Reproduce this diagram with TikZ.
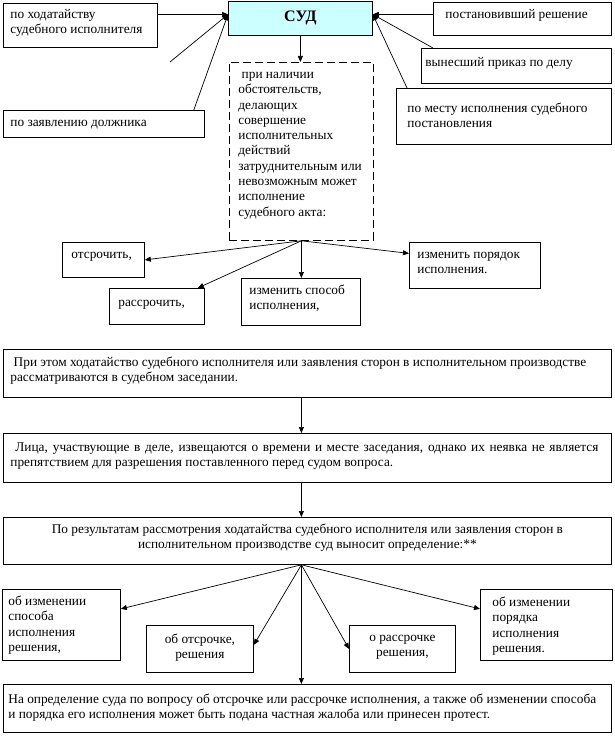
\documentclass[tikz,border=0pt]{standalone}
\usepackage{fontspec}
\setmainfont{Liberation Serif}
\usetikzlibrary{arrows.meta,calc}
\definecolor{sudcyan}{HTML}{CCFFFF}
\newcommand\pbx[5]{\parbox[c][#1][t]{#2}{#3\vspace*{#4}\strut#5}}
\tikzset{
  box/.style={draw, line width=0.8pt, anchor=north west, inner ysep=0pt,
    font=\fontsize{13.33}{15.3}\selectfont},
  dbox/.style={box, dash pattern=on 8pt off 4pt},
  arr/.style={line width=0.7pt, -{Triangle[length=6pt,width=5pt]}},
}
\begin{document}
\begin{tikzpicture}[x=1pt,y=-1pt]
\useasboundingbox (0,0) rectangle (614,746);
% top row
\node[box, inner xsep=7pt] (hodat) at (3,3) {\pbx{44pt}{140pt}{\raggedright}{4.3pt}{по ходатайству\\судебного исполнителя}};
\node[draw, line width=0.8pt, fill=sudcyan, minimum width=144pt, minimum height=34pt, inner sep=0pt,
  font=\fontsize{16}{18}\selectfont\bfseries, anchor=north west] (sud) at (228,1) {СУД};
\node[box, inner xsep=12pt] (post) at (433,2) {\pbx{33pt}{154pt}{\raggedright}{5.3pt}{постановивший решение}};
\node[box, inner xsep=4pt] (vyn) at (421,48) {\pbx{35pt}{182pt}{\raggedright}{7.3pt}{вынесший приказ по делу}};
\node[box, inner xsep=11pt] (mesto) at (396,88) {\pbx{56pt}{193pt}{\raggedright}{13.3pt}{по месту исполнения судебного\\постановления}};
\node[box, inner xsep=7pt] (zayav) at (3,110) {\pbx{27pt}{187pt}{\raggedright}{5.3pt}{по заявлению должника}};
\node[dbox, inner xsep=9pt] (cond) at (229,62) {\pbx{178pt}{126pt}{\raggedright}{5.3pt}{\ при наличии\\обстоятельств,\\делающих\\совершение\\исполнительных\\действий\\затруднительным или\\невозможным может\\исполнение\\судебного акта:}};
% middle row
\node[box, inner xsep=9pt] (otsr) at (62,242) {\pbx{35pt}{64pt}{\raggedright}{5.3pt}{отсрочить,}};
\node[box, inner xsep=9pt] (rassr) at (109,288) {\pbx{36pt}{77pt}{\raggedright}{7.3pt}{рассрочить,}};
\node[box, inner xsep=8pt] (sposob) at (241,278) {\pbx{47pt}{103pt}{\raggedright}{5.3pt}{изменить способ\\исполнения,}};
\node[box, inner xsep=8pt] (poryadok) at (409,242) {\pbx{46pt}{115pt}{\raggedright}{5.3pt}{изменить порядок\\исполнения.}};
% wide boxes
\node[box, inner xsep=7pt] (boxA) at (3,349) {\pbx{48pt}{594pt}{\raggedright}{6.3pt}{\ При этом ходатайство судебного исполнителя или заявления сторон в исполнительном производстве\\рассматриваются в судебном заседании.}};
\node[box, inner xsep=7pt] (boxB) at (3,433) {\pbx{49pt}{594pt}{\raggedright}{7.3pt}{\hspace*{5pt}\makebox[583pt][s]{Лица, участвующие в деле, извещаются о времени и месте заседания, однако их неявка не является}\\препятствием для разрешения поставленного перед судом вопроса.}};
\node[box, inner xsep=7pt] (boxC) at (3,517) {\pbx{47pt}{594pt}{\centering}{5.3pt}{По результатам рассмотрения ходатайства судебного исполнителя или заявления сторон в\\исполнительном производстве суд выносит определение:**}};
% bottom row
\node[box, inner xsep=6pt] (box1) at (2,589) {\pbx{71pt}{106pt}{\raggedright}{5.3pt}{об изменении\\способа\\исполнения\\решения,}};
\node[box, inner xsep=5pt] (box2) at (146,625) {\pbx{47pt}{97pt}{\centering}{7.3pt}{об отсрочке,\\решения}};
\node[box, inner xsep=5pt] (box3) at (349,625) {\pbx{47pt}{96pt}{\centering}{5.3pt}{о рассрочке\\решения,}};
\node[box, inner xsep=12pt] (box4) at (480,589) {\pbx{71pt}{108pt}{\raggedright}{6.3pt}{об изменении\\порядка\\исполнения\\решения.}};
\node[box, inner xsep=5pt] (boxD) at (3,684) {\pbx{48pt}{598pt}{\raggedright}{8.3pt}{На определение суда по вопросу об отсрочке или рассрочке исполнения, а также об изменении способа\\и порядка его исполнения может быть подана частная жалоба или принесен протест.}};
% connectors
\coordinate (sudL) at ([yshift=4pt]sud.west);
\coordinate (sudR) at ([yshift=4pt]sud.east);
\coordinate (free) at (170,62);
\draw[arr] (hodat.east |- sudL) -- (sudL);
\draw[arr] (free) -- (sudL);
\draw[arr] ([xshift=-11pt]zayav.north east) -- (sudL);
\draw[arr] (post.west |- sudR) -- (sudR);
\draw[arr] ([xshift=12pt]vyn.north west) -- (sudR);
\draw[arr] ([xshift=11pt]mesto.north west) -- (sudR);
\draw[arr] (sud.south) -- (sud.south |- cond.north);
\draw[arr] (cond.south) -- (otsr.east);
\draw[arr] (cond.south) -- ([xshift=-7pt]rassr.north east);
\draw[arr] (cond.south) -- (cond.south |- sposob.north);
\draw[arr] (cond.south) -- ([yshift=12pt]poryadok.west);
\draw[arr] (boxA.south -| cond.south) -- (boxB.north -| cond.south);
\draw[arr] (boxB.south -| cond.south) -- (boxC.north -| cond.south);
\coordinate (fan) at (boxC.south -| cond.south);
\draw[arr] (fan) -- ([yshift=16pt]box1.east);
\draw[arr] (fan) -- ([yshift=4pt]box2.east);
\draw[arr] (fan) -- (box3.west);
\draw[arr] (fan) -- ([yshift=16pt]box4.west);
\draw[arr] (fan) -- (fan |- boxD.north);
\end{tikzpicture}
\end{document}
